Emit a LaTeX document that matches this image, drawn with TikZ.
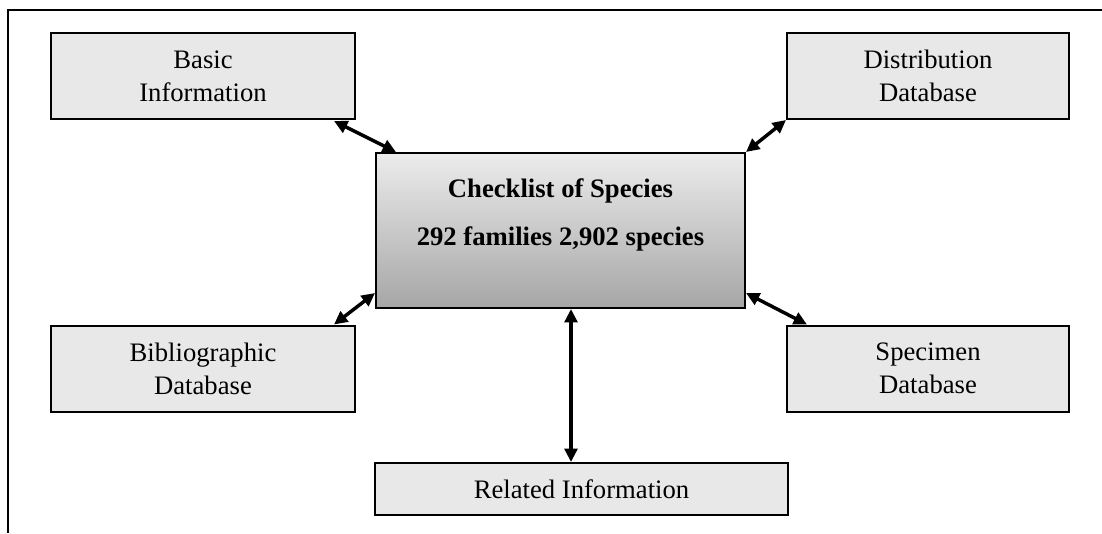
\documentclass[tikz,border=0pt]{standalone}
\usepackage{fontspec}
\setmainfont{Liberation Serif}
\usepackage{xcolor}
\usetikzlibrary{calc,arrows.meta}

\definecolor{boxfill}{RGB}{232,232,232}
\definecolor{chktop}{RGB}{236,236,236}
\definecolor{chkbottom}{RGB}{166,166,166}

\tikzset{
  infobox/.style={draw=black, line width=1.5pt, fill=boxfill, align=center,
    inner sep=0pt, font=\fontsize{20}{24.75}\selectfont},
  link/.style={{Triangle[length=10pt,width=9.5pt]}-{Triangle[length=10pt,width=9.5pt]},
    line width=2.6pt}
}

\begin{document}
\begin{tikzpicture}[x=0.75pt,y=0.75pt]
                    \useasboundingbox (0,0) rectangle (1102,-533);
                    % frame
                    \draw [line width=1.8pt] (1102,-10) -- (8,-10) -- (8,-533);
                    % boxes
                    \node (basic) [infobox, minimum width=228pt, minimum height=64.5pt] at (203,-76) {Basic\\Information};
                    \node (dist) [infobox, minimum width=211.5pt, minimum height=64.5pt] at (928,-76) {Distribution\\Database};
                    \node (bib) [infobox, minimum width=228pt, minimum height=64.5pt] at (203,-368.5) {Bibliographic\\Database};
                    \node (spec) [infobox, minimum width=211.5pt, minimum height=64.5pt] at (928,-368.5) {Specimen\\Database};
                    \node (rel) [infobox, minimum width=309.75pt, minimum height=39pt] at (581.5,-489) {Related Information};
                    \node (chk) [draw=black, line width=1.5pt, top color=chktop, bottom color=chkbottom,
                      minimum width=276.75pt, minimum height=116.25pt] at (560.5,-230.5) {};
                    \node (chktitle) [anchor=base, font=\fontsize{20}{24}\selectfont\bfseries] at ($(chk.north)+(0,-45)$) {Checklist of Species};
                    \node (chkcount) [anchor=base, font=\fontsize{20}{24}\selectfont\bfseries] at ($(chk.north)+(0,-93)$) {292 families 2,902 species};
                    % connectors
                    \draw [link] ($(basic.south east)+(-22,-1)$) -- ($(chk.north west)+(21,0)$);
                    \draw [link] (dist.south west) -- (chk.north east);
                    \draw [link] ($(chk.south west)+(0,16)$) -- ($(bib.north east)+(-22,0)$);
                    \draw [link] ($(chk.south east)+(0,16)$) -- ($(spec.north west)+(21,0)$);
                    \draw [link] ($(chk.south)+(10.5,0)$) -- ($(rel.north)+(-10.5,0)$);
\end{tikzpicture}
\end{document}
